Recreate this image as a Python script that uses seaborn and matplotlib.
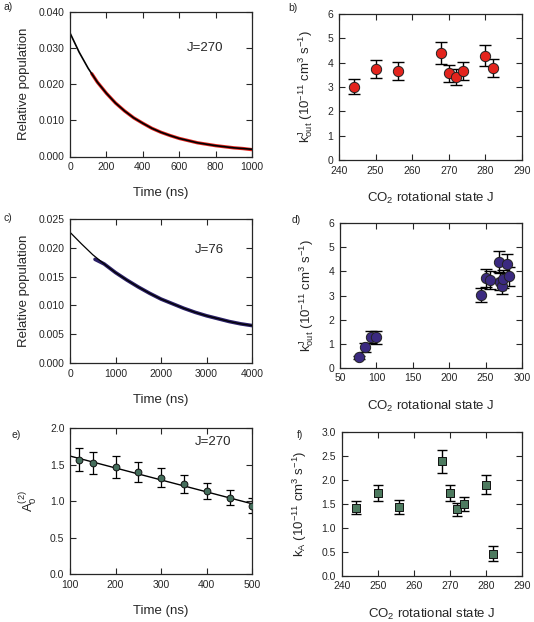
import matplotlib
matplotlib.use('Agg')
import matplotlib.pyplot as plt
import seaborn as sns
import pandas as pd
from matplotlib.ticker import FormatStrFormatter

# ---------------- data ----------------
# panel a: fit curve (black) and measured decay (red), J=270
a_fit_t = [0, 50, 100, 150, 200, 250, 300, 350, 400, 450, 500, 550, 600, 650, 700,
           750, 800, 850, 900, 950, 1000]
a_fit_y = [0.0342, 0.0289, 0.0244, 0.0206, 0.0175, 0.0148, 0.0126, 0.0107, 0.0092,
           0.0078, 0.0067, 0.0058, 0.0050, 0.0044, 0.0038, 0.0034, 0.0030, 0.0027,
           0.0024, 0.0022, 0.0020]
a_dat_t = [120, 150, 200, 250, 300, 350, 400, 450, 500, 550, 600, 650, 700, 750, 800,
           850, 900, 950, 1000]
a_dat_y = [0.0229, 0.0206, 0.0175, 0.0148, 0.0126, 0.0107, 0.0092, 0.0078, 0.0067,
           0.0058, 0.0050, 0.0044, 0.0038, 0.0034, 0.0030, 0.0027, 0.0024, 0.0022, 0.0019]

# panel b: k_out vs J (high J)
b_J = [244, 250, 256, 268, 270, 272, 274, 280, 282]
b_k = [3.02, 3.74, 3.64, 4.40, 3.57, 3.41, 3.67, 4.29, 3.79]
b_err = [0.31, 0.38, 0.37, 0.44, 0.35, 0.33, 0.37, 0.44, 0.38]

# panel c: fit curve (black) and measured decay (navy), J=76
c_fit_t = [0, 250, 500, 750, 1000, 1250, 1500, 1750, 2000, 2250, 2500, 2750, 3000,
           3250, 3500, 3750, 4000]
c_fit_y = [0.0227, 0.0207, 0.0188, 0.0172, 0.0157, 0.0144, 0.0132, 0.0121, 0.0111,
           0.0103, 0.0095, 0.0088, 0.0082, 0.0077, 0.0072, 0.0068, 0.0065]
c_dat_t = [550, 750, 1000, 1250, 1500, 1750, 2000, 2250, 2500, 2750, 3000, 3250, 3500,
           3750, 4000]
c_dat_y = [0.0180, 0.0172, 0.0157, 0.0144, 0.0132, 0.0121, 0.0111, 0.0103, 0.0095,
           0.0088, 0.0082, 0.0077, 0.0072, 0.0068, 0.0065]

# panel d: k_out vs J (all J)
d_J = [76, 84, 92, 100, 244, 250, 256, 268, 270, 272, 274, 280, 282]
d_k = [0.43, 0.84, 1.27, 1.26, 3.02, 3.74, 3.64, 4.40, 3.57, 3.41, 3.67, 4.29, 3.79]
d_err = [0.07, 0.18, 0.26, 0.26, 0.31, 0.38, 0.37, 0.44, 0.35, 0.33, 0.37, 0.44, 0.38]

# panel e: A0(2) vs time, J=270
e_t = [120, 150, 200, 250, 300, 350, 400, 450, 500]
e_A = [1.57, 1.53, 1.47, 1.40, 1.32, 1.24, 1.14, 1.05, 0.94]
e_err = [0.155, 0.15, 0.146, 0.137, 0.13, 0.125, 0.11, 0.105, 0.10]
e_fit_t = [100, 500]
e_fit_A = [1.62, 0.965]

# panel f: k_A vs J
f_J = [244, 250, 256, 268, 270, 272, 274, 280, 282]
f_k = [1.42, 1.72, 1.43, 2.38, 1.72, 1.38, 1.50, 1.90, 0.46]
f_err = [0.14, 0.17, 0.145, 0.24, 0.17, 0.14, 0.15, 0.19, 0.15]

# ---------------- style ----------------
sns.set_theme(style='ticks')
plt.rcParams['font.family'] = ['Liberation Sans', 'DejaVu Sans']
plt.rcParams['mathtext.fontset'] = 'custom'
plt.rcParams['mathtext.rm'] = 'Liberation Sans'
plt.rcParams['mathtext.it'] = 'Liberation Sans:italic'
plt.rcParams['mathtext.bf'] = 'Liberation Sans:bold'
plt.rcParams['mathtext.default'] = 'regular'

TXT = '#262626'
W, H = 534, 622
fig = plt.figure(figsize=(W / 100, H / 100), dpi=100)
fig.patch.set_facecolor('white')


def add_ax(l, r, t, b):
    return fig.add_axes([l / W, 1 - b / H, (r - l) / W, (b - t) / H])


def style(ax):
    ax.tick_params(direction='in', length=4, width=0.8, top=True, right=True,
                   labelsize=7.5, colors=TXT, pad=4)
    for s in ax.spines.values():
        s.set_linewidth(0.9)
        s.set_color(TXT)
    ax.set_facecolor('white')


LBL = 9.5
ylab_b = r'$k^{J}_{out}$ (10$^{-11}$ cm$^{3}$ s$^{-1}$)'
xlab_J = r'CO$_2$ rotational state J'

# ---- a ----
ax = add_ax(70, 252, 12, 156.5)
sns.lineplot(x=a_dat_t, y=a_dat_y, ax=ax, color='#e3241d', lw=2.4, estimator=None, sort=False)
sns.lineplot(x=a_fit_t, y=a_fit_y, ax=ax, color='black', lw=1.2, estimator=None, sort=False)
ax.set_xlim(0, 1000)
ax.set_ylim(0, 0.040)
ax.set_xticks([0, 200, 400, 600, 800, 1000])
ax.set_yticks([0, 0.01, 0.02, 0.03, 0.04])
ax.yaxis.set_major_formatter(FormatStrFormatter('%.3f'))
ax.text(742, 0.030, 'J=270', ha='center', va='center', fontsize=LBL, color=TXT)
ax.set_xlabel('Time (ns)', fontsize=LBL, color=TXT, labelpad=11)
ax.set_ylabel('Relative population', fontsize=LBL, color=TXT, labelpad=6)
style(ax)

# ---- b ----
ax = add_ax(339, 522, 14, 160)
ax.errorbar(b_J, b_k, yerr=b_err, fmt='none', ecolor='black', elinewidth=1.0,
            capsize=4.5, capthick=1.0, zorder=2)
sns.scatterplot(x=b_J, y=b_k, ax=ax, color='#e3241d', edgecolor='#222222', linewidth=0.7,
                s=55, zorder=3)
ax.set_xlim(240, 290)
ax.set_ylim(0, 6)
ax.set_xticks(range(240, 291, 10))
ax.set_yticks(range(0, 7))
ax.set_xlabel(xlab_J, fontsize=LBL, color=TXT, labelpad=11)
ax.set_ylabel(ylab_b, fontsize=LBL, color=TXT, labelpad=9)
style(ax)

# ---- c ----
ax = add_ax(70, 252, 219, 363)
sns.lineplot(x=c_dat_t, y=c_dat_y, ax=ax, color='#2a1f66', lw=2.6, estimator=None, sort=False)
sns.lineplot(x=c_fit_t, y=c_fit_y, ax=ax, color='black', lw=0.9, estimator=None, sort=False)
ax.set_xlim(0, 4000)
ax.set_ylim(0, 0.025)
ax.set_xticks([0, 1000, 2000, 3000, 4000])
ax.set_yticks([0, 0.005, 0.010, 0.015, 0.020, 0.025])
ax.yaxis.set_major_formatter(FormatStrFormatter('%.3f'))
ax.text(3055, 0.0196, 'J=76', ha='center', va='center', fontsize=LBL, color=TXT)
ax.set_xlabel('Time (ns)', fontsize=LBL, color=TXT, labelpad=11)
ax.set_ylabel('Relative population', fontsize=LBL, color=TXT, labelpad=6)
style(ax)

# ---- d ----
ax = add_ax(340, 522, 223.3, 367.7)
ax.errorbar(d_J, d_k, yerr=d_err, fmt='none', ecolor='black', elinewidth=1.0,
            capsize=4.5, capthick=1.0, zorder=2)
sns.scatterplot(x=d_J, y=d_k, ax=ax, color='#3b2a80', edgecolor='#222222', linewidth=0.7,
                s=55, zorder=3)
ax.set_xlim(50, 300)
ax.set_ylim(0, 6)
ax.set_xticks(range(50, 301, 50))
ax.set_yticks(range(0, 7))
ax.set_xlabel(xlab_J, fontsize=LBL, color=TXT, labelpad=11)
ax.set_ylabel(ylab_b, fontsize=LBL, color=TXT, labelpad=9)
style(ax)

# ---- e ----
ax = add_ax(70, 252.3, 428.3, 574.3)
sns.lineplot(x=e_fit_t, y=e_fit_A, ax=ax, color='black', lw=1.0, estimator=None, sort=False)
ax.errorbar(e_t, e_A, yerr=e_err, fmt='none', ecolor='black', elinewidth=0.9,
            capsize=2.8, capthick=0.9, zorder=2)
sns.scatterplot(x=e_t, y=e_A, ax=ax, color='#456e5c', edgecolor='#111111', linewidth=0.7,
                s=24, zorder=3)
ax.set_xlim(100, 500)
ax.set_ylim(0, 2.0)
ax.set_xticks([100, 200, 300, 400, 500])
ax.set_yticks([0, 0.5, 1.0, 1.5, 2.0])
ax.yaxis.set_major_formatter(FormatStrFormatter('%.1f'))
ax.text(414, 1.81, 'J=270', ha='center', va='center', fontsize=LBL, color=TXT)
ax.set_xlabel('Time (ns)', fontsize=LBL, color=TXT, labelpad=11)
ax.set_ylabel(r'$A_0^{(2)}$', fontsize=LBL, color=TXT, labelpad=8)
style(ax)

# ---- f ----
ax = add_ax(341.7, 521.7, 431.7, 575.7)
ax.errorbar(f_J, f_k, yerr=f_err, fmt='none', ecolor='black', elinewidth=1.0,
            capsize=3.6, capthick=1.0, zorder=2)
sns.scatterplot(x=f_J, y=f_k, ax=ax, color='#4d7a5f', edgecolor='#111111', linewidth=0.7,
                marker='s', s=32, zorder=3)
ax.set_xlim(240, 290)
ax.set_ylim(0, 3.0)
ax.set_xticks(range(240, 291, 10))
ax.set_yticks([0, 0.5, 1.0, 1.5, 2.0, 2.5, 3.0])
ax.yaxis.set_major_formatter(FormatStrFormatter('%.1f'))
ax.set_xlabel(xlab_J, fontsize=LBL, color=TXT, labelpad=11)
ax.set_ylabel(r'$k_A$ (10$^{-11}$ cm$^{3}$ s$^{-1}$)', fontsize=LBL, color=TXT, labelpad=9)
style(ax)

# ---- panel letters ----
for lab, x, y in [('a)', 8, 7), ('b)', 293, 8), ('c)', 8, 218), ('d)', 296, 220),
                  ('e)', 16, 435), ('f)', 300, 435)]:
    fig.text(x / W, 1 - y / H, lab, ha='center', va='center', fontsize=7.5, color=TXT)

fig.savefig('out.png', dpi=100, facecolor='white')
